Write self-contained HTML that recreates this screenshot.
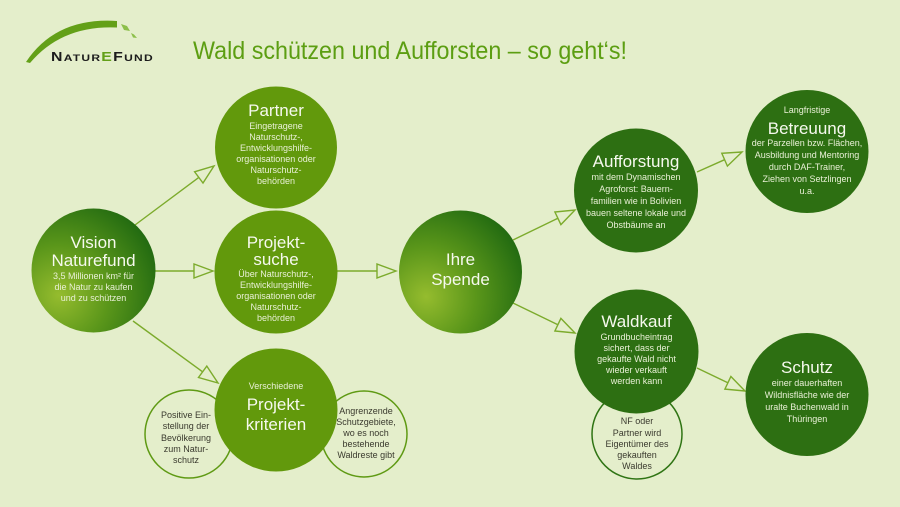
<!DOCTYPE html>
<html>
<head>
<meta charset="utf-8">
<style>
html,body{margin:0;padding:0;background:#e4eecb;}
svg{display:block;}
text{font-family:"Liberation Sans", "DejaVu Sans", sans-serif;}
.h{fill:#f6f9ee;font-size:17px;text-anchor:middle;}
.s{fill:#e9f0d6;font-size:9px;text-anchor:middle;}
.d{fill:#3a3a2e;font-size:9px;text-anchor:middle;}
.ln{stroke:#7cab2c;stroke-width:1.4;fill:none;}
.ah{stroke:#7cab2c;stroke-width:1.4;fill:#e4eecb;stroke-linejoin:miter;}
</style>
</head>
<body>
<svg width="900" height="507" viewBox="0 0 900 507" xmlns="http://www.w3.org/2000/svg">
<defs>
<radialGradient id="g1" cx="0.22" cy="0.7" r="0.9">
<stop offset="0" stop-color="#95bc2e"/>
<stop offset="0.45" stop-color="#5a961a"/>
<stop offset="1" stop-color="#1b6510"/>
</radialGradient>
</defs>
<rect width="900" height="507" fill="#e4eecb"/>

<!-- Logo -->
<path d="M26,62 Q56,17 117,21 L117,27.5 Q62,25 30,63 Z" fill="#63a018"/>
<path d="M121,24 L127,26 L130,31 L124,30 Z" fill="#8cbf4a"/>
<path d="M131,33 L134,34.5 L137,38 L133,37.5 Z" fill="#8cbf4a"/>
<text x="51" y="61" font-size="12.5" font-weight="bold" fill="#1c1c1c" letter-spacing="1" textLength="103" lengthAdjust="spacingAndGlyphs">N<tspan font-size="9.5">ATUR</tspan><tspan fill="#63a018">E</tspan>F<tspan font-size="9.5">UND</tspan></text>

<!-- Title -->
<text x="193" y="59" font-size="25" fill="#5c9e12" textLength="434" lengthAdjust="spacingAndGlyphs">Wald schützen und Aufforsten – so geht‘s!</text>

<!-- Connectors -->
<line class="ln" x1="135" y1="225" x2="198.8" y2="177.4"/>
<polygon class="ah" points="214,166 203,183 194.6,171.8"/>
<line class="ln" x1="155" y1="271" x2="194" y2="271"/>
<polygon class="ah" points="213,271 194,264 194,278"/>
<line class="ln" x1="133" y1="321" x2="202.6" y2="371.8"/>
<polygon class="ah" points="218,383 198.5,377.5 206.8,366.1"/>
<line class="ln" x1="337" y1="271" x2="377" y2="271"/>
<polygon class="ah" points="396,271 377,264 377,278"/>
<line class="ln" x1="513" y1="240" x2="557.9" y2="218.3"/>
<polygon class="ah" points="575,210 560.9,224.6 554.9,212"/>
<line class="ln" x1="513" y1="303" x2="557.9" y2="324.7"/>
<polygon class="ah" points="575,333 554.9,331 560.9,318.4"/>
<line class="ln" x1="697" y1="172" x2="724.6" y2="159.7"/>
<polygon class="ah" points="742,152 727.4,166.1 721.8,153.3"/>
<line class="ln" x1="697" y1="368" x2="727.9" y2="382.8"/>
<polygon class="ah" points="745,391 724.9,389.1 730.9,376.5"/>

<!-- Outline small circles -->
<circle cx="189" cy="434" r="44" fill="none" stroke="#5f9a14" stroke-width="1.5"/>
<circle cx="364" cy="434" r="43" fill="none" stroke="#5f9a14" stroke-width="1.5"/>
<circle cx="637" cy="434" r="45" fill="none" stroke="#2f7414" stroke-width="1.5"/>

<!-- Vision -->
<circle cx="93.5" cy="270.5" r="62" fill="url(#g1)"/>
<text class="h" x="93.5" y="248">Vision</text>
<text class="h" x="93.5" y="266">Naturefund</text>
<text class="s" x="93.5" y="279">3,5 Millionen km² für</text>
<text class="s" x="93.5" y="290">die Natur zu kaufen</text>
<text class="s" x="93.5" y="301">und zu schützen</text>

<!-- Partner -->
<circle cx="276" cy="147.5" r="61" fill="#62990c"/>
<text class="h" x="276" y="116">Partner</text>
<text class="s" x="276" y="129">Eingetragene</text>
<text class="s" x="276" y="140">Naturschutz-,</text>
<text class="s" x="276" y="151">Entwicklungshilfe-</text>
<text class="s" x="276" y="162">organisationen oder</text>
<text class="s" x="276" y="173">Naturschutz-</text>
<text class="s" x="276" y="184">behörden</text>

<!-- Projektsuche -->
<circle cx="276" cy="272" r="61.5" fill="#62990c"/>
<text class="h" x="276" y="248">Projekt-</text>
<text class="h" x="276" y="265">suche</text>
<text class="s" x="276" y="277">Über Naturschutz-,</text>
<text class="s" x="276" y="288">Entwicklungshilfe-</text>
<text class="s" x="276" y="299">organisationen oder</text>
<text class="s" x="276" y="310">Naturschutz-</text>
<text class="s" x="276" y="321">behörden</text>

<!-- Kriterien -->
<circle cx="276" cy="410" r="61.5" fill="#62990c"/>
<text class="s" x="276" y="389">Verschiedene</text>
<text class="h" x="276" y="410" font-size="18">Projekt-</text>
<text class="h" x="276" y="430" font-size="18">kriterien</text>
<text class="d" x="186" y="418">Positive Ein-</text>
<text class="d" x="186" y="429">stellung der</text>
<text class="d" x="186" y="441">Bevölkerung</text>
<text class="d" x="186" y="452">zum Natur-</text>
<text class="d" x="186" y="463">schutz</text>
<text class="d" x="366" y="414">Angrenzende</text>
<text class="d" x="366" y="425">Schutzgebiete,</text>
<text class="d" x="366" y="436">wo es noch</text>
<text class="d" x="366" y="447">bestehende</text>
<text class="d" x="366" y="458">Waldreste gibt</text>

<!-- Ihre Spende -->
<circle cx="460.5" cy="272" r="61.5" fill="url(#g1)"/>
<text class="h" x="460.5" y="265">Ihre</text>
<text class="h" x="460.5" y="285">Spende</text>

<!-- Aufforstung -->
<circle cx="636" cy="190.5" r="62" fill="#2d6f12"/>
<text class="h" x="636" y="167">Aufforstung</text>
<text class="s" x="636" y="180">mit dem Dynamischen</text>
<text class="s" x="636" y="192">Agroforst: Bauern-</text>
<text class="s" x="636" y="204">familien wie in Bolivien</text>
<text class="s" x="636" y="216">bauen seltene lokale und</text>
<text class="s" x="636" y="228">Obstbäume an</text>

<!-- Betreuung -->
<circle cx="807" cy="151.5" r="61.5" fill="#2d6f12"/>
<text class="s" x="807" y="113">Langfristige</text>
<text class="h" x="807" y="134">Betreuung</text>
<text class="s" x="807" y="146">der Parzellen bzw. Flächen,</text>
<text class="s" x="807" y="158">Ausbildung und Mentoring</text>
<text class="s" x="807" y="170">durch DAF-Trainer,</text>
<text class="s" x="807" y="182">Ziehen von Setzlingen</text>
<text class="s" x="807" y="194">u.a.</text>

<!-- Waldkauf -->
<circle cx="636.5" cy="351.5" r="62" fill="#2d6f12"/>
<text class="h" x="636.5" y="327">Waldkauf</text>
<text class="s" x="636.5" y="340">Grundbucheintrag</text>
<text class="s" x="636.5" y="351">sichert, dass der</text>
<text class="s" x="636.5" y="362">gekaufte Wald nicht</text>
<text class="s" x="636.5" y="373">wieder verkauft</text>
<text class="s" x="636.5" y="384">werden kann</text>
<text class="d" x="637" y="424">NF oder</text>
<text class="d" x="637" y="436">Partner wird</text>
<text class="d" x="637" y="447">Eigentümer des</text>
<text class="d" x="637" y="458">gekauften</text>
<text class="d" x="637" y="469">Waldes</text>

<!-- Schutz -->
<circle cx="807" cy="394.5" r="61.5" fill="#2d6f12"/>
<text class="h" x="807" y="373" font-size="18">Schutz</text>
<text class="s" x="807" y="386">einer dauerhaften</text>
<text class="s" x="807" y="398">Wildnisfläche wie der</text>
<text class="s" x="807" y="410">uralte Buchenwald in</text>
<text class="s" x="807" y="422">Thüringen</text>
</svg>
</body>
</html>
